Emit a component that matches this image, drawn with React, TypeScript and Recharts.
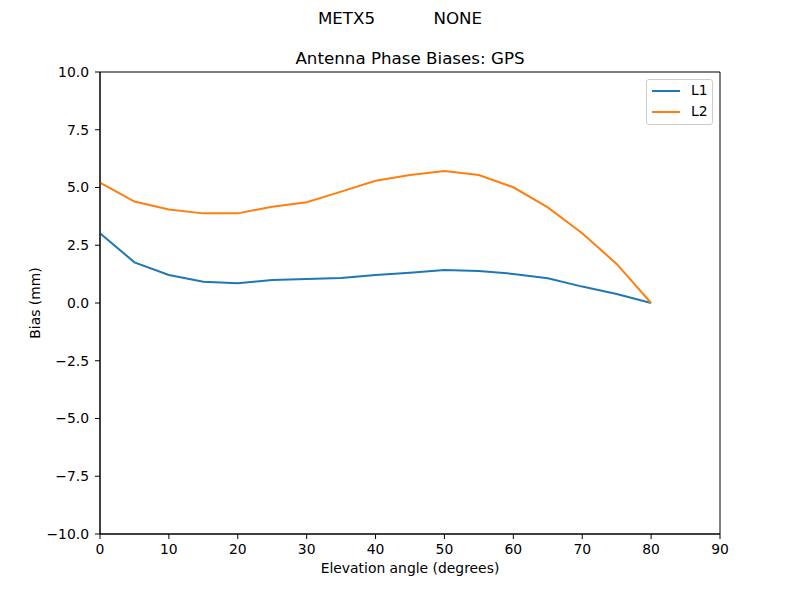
import { LineChart, Line, XAxis, YAxis, ReferenceArea } from 'recharts';

const elevation = [0, 5, 10, 15, 20, 25, 30, 35, 40, 45, 50, 55, 60, 65, 70, 75, 80];
const l1 = [3.02, 1.76, 1.21, 0.92, 0.85, 1.0, 1.04, 1.08, 1.21, 1.31, 1.43, 1.39, 1.26, 1.07, 0.71, 0.39, 0.0];
const l2 = [5.21, 4.39, 4.05, 3.88, 3.88, 4.17, 4.36, 4.82, 5.29, 5.54, 5.71, 5.54, 5.01, 4.14, 3.02, 1.69, 0.0];
const xTicks = [0, 10, 20, 30, 40, 50, 60, 70, 80, 90];
const yTicks = [-10, -7.5, -5, -2.5, 0, 2.5, 5, 7.5, 10];

const BLUE = '#1f77b4';
const ORANGE = '#ff7f0e';
const FONT = 'DejaVu Sans, sans-serif';

const data = elevation.map((e, i) => ({ e, l1: l1[i], l2: l2[i] }));

function fmtY(v: number) {
  return v.toFixed(1).replace('-', '\u2212');
}

function LegendBox() {
  const items = [
    { name: 'L1', color: BLUE },
    { name: 'L2', color: ORANGE },
  ];
  return (
    <div
      style={{
        position: 'absolute',
        left: 646,
        top: 79,
        width: 67,
        height: 46,
        boxSizing: 'border-box',
        border: '1px solid #cccccc',
        borderRadius: 3,
        background: 'rgba(255,255,255,0.8)',
        padding: '0 0 0 5px',
        fontFamily: FONT,
        fontSize: 13.9,
        lineHeight: '21px',
      }}
    >
      {items.map((it) => (
        <div key={it.name} style={{ display: 'flex', alignItems: 'center' }}>
          <div style={{ width: 28, height: 2, background: it.color, marginRight: 11 }} />
          <span>{it.name}</span>
        </div>
      ))}
    </div>
  );
}

export default function App() {
  const tickStyle = { fill: '#000', fontSize: 13.9, fontFamily: FONT };
  return (
    <div style={{ position: 'absolute', left: 0, top: 0, width: 800, height: 600, background: '#fff' }}>
      <div
        style={{
          position: 'absolute', left: 0, top: 8, width: 800, textAlign: 'center',
          fontFamily: FONT, fontSize: 16.7, whiteSpace: 'pre',
        }}
      >
        {'METX5           NONE'}
      </div>
      <div
        style={{
          position: 'absolute', left: 100, top: 48, width: 620, textAlign: 'center',
          fontFamily: FONT, fontSize: 16.7,
        }}
      >
        Antenna Phase Biases: GPS
      </div>
      <div
        style={{
          position: 'absolute', left: 100, top: 560, width: 620, textAlign: 'center',
          fontFamily: FONT, fontSize: 13.9,
        }}
      >
        Elevation angle (degrees)
      </div>
      <div
        style={{
          position: 'absolute', left: 35, top: 303, fontFamily: FONT, fontSize: 13.9,
          transform: 'translate(-50%, -50%) rotate(-90deg)', whiteSpace: 'nowrap',
        }}
      >
        Bias (mm)
      </div>
      <LineChart
        width={800}
        height={600}
        data={data}
        margin={{ top: 72, right: 80, bottom: 0, left: 0 }}
      >
        <XAxis
          dataKey="e"
          type="number"
          domain={[0, 90]}
          ticks={xTicks}
          height={66}
          tick={tickStyle}
          tickLine={{ stroke: '#000' }}
          axisLine={{ stroke: '#000' }}
          tickSize={5}
          tickMargin={5}
          interval={0}
        />
        <YAxis
          type="number"
          domain={[-10, 10]}
          ticks={yTicks}
          width={100}
          tick={tickStyle}
          tickFormatter={fmtY}
          tickLine={{ stroke: '#000' }}
          axisLine={{ stroke: '#000' }}
          tickSize={5}
          tickMargin={6}
          interval={0}
        />
        <ReferenceArea x1={0} x2={90} y1={-10} y2={10} fill="none" stroke="#000" strokeWidth={1} />
        <Line dataKey="l1" name="L1" stroke={BLUE} strokeWidth={2} dot={false} isAnimationActive={false} />
        <Line dataKey="l2" name="L2" stroke={ORANGE} strokeWidth={2} dot={false} isAnimationActive={false} />
      </LineChart>
      <LegendBox />
    </div>
  );
}
